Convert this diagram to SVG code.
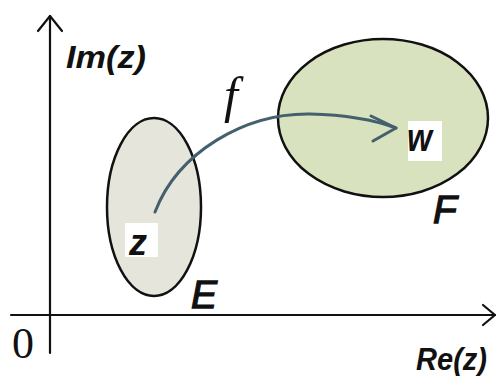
<svg xmlns="http://www.w3.org/2000/svg" width="497" height="376" viewBox="0 0 497 376">
<style>
.axis{stroke:#111;stroke-width:2.2;fill:none;stroke-linecap:round;stroke-linejoin:round}
.set{stroke:#111;stroke-width:2.5}
.lbl{font-family:"Liberation Sans",Arial,sans-serif;font-style:italic;font-weight:bold;fill:#111}
.big{font-family:"Liberation Sans",Arial,sans-serif;font-style:italic;font-weight:normal;fill:#111;stroke:#111;stroke-width:1.3}
.ser{font-family:"Liberation Serif","Times New Roman",serif;fill:#111}
.map{stroke:#44606f;stroke-width:3;fill:none;stroke-linecap:round;stroke-linejoin:round}
</style>
<rect width="497" height="376" fill="#fff"/>
<g id="axes">
  <path class="axis" d="M50,16 V353"/>
  <path class="axis" d="M38,31 L50,16 L62,31"/>
  <path class="axis" d="M11,315 H495"/>
  <path class="axis" d="M483,305 L495,315 L483,325"/>
  <text class="lbl" x="66" y="68" font-size="31" textLength="80" lengthAdjust="spacingAndGlyphs">Im(z)</text>
  <text class="lbl" x="416" y="370" font-size="32" textLength="71" lengthAdjust="spacingAndGlyphs">Re(z)</text>
  <text class="ser" x="12" y="358" font-size="44">0</text>
</g>
<g id="E">
  <ellipse class="set" cx="154" cy="207" rx="47" ry="89" fill="#e6e5dc"/>
  <rect x="125" y="223" width="33" height="34" fill="#fff"/>
  <text class="lbl" x="129" y="255" font-size="36">z</text>
  <text class="big" x="191" y="308" font-size="39">E</text>
</g>
<g id="F">
  <ellipse class="set" cx="383" cy="118" rx="105" ry="79" fill="#d9e2bf"/>
  <rect x="408" y="121" width="34" height="40" fill="#fff"/>
  <text class="lbl" x="407" y="151" font-size="38" textLength="25" lengthAdjust="spacingAndGlyphs">w</text>
  <text class="big" x="433" y="223" font-size="39">F</text>
</g>
<g id="connectors">
  <path class="map" d="M155,212 C178,152 245,113 310,114 C350,115 380,122 396,128"/>
  <path class="map" d="M371,116 L396,128 L373,141"/>
  <text class="ser" x="224" y="112" font-size="50" font-style="italic">f</text>
</g>
</svg>
